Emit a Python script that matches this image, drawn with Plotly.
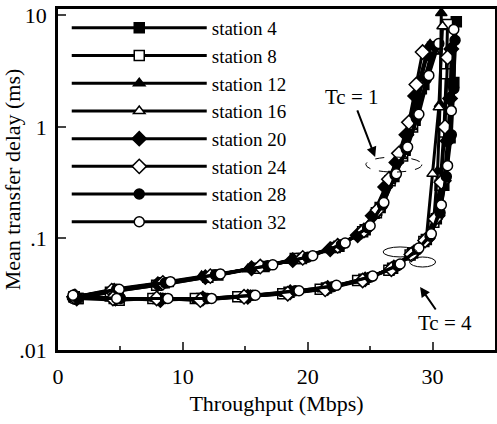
import plotly.graph_objects as go

stations = ["station 4", "station 8", "station 12", "station 16",
            "station 20", "station 24", "station 28", "station 32"]
symbols = ["square", "square", "triangle-up", "triangle-up",
           "diamond", "diamond", "circle", "circle"]
filled = [True, False, True, False, True, False, True, False]

# Tc = 1 curves (upper bundle)
tc1_x = [
    [1.3, 4.6, 8.5, 12.8, 16.5, 19.5, 22.5, 24.6, 25.8, 26.9, 27.8, 28.6, 29.3, 30.0],
    [1.6, 4.2, 7.9, 12.0, 15.8, 19.0, 22.2, 24.4, 25.5, 26.6, 27.6, 28.4, 29.1, 30.2],
    [1.4, 4.4, 8.2, 11.5, 15.2, 18.6, 21.6, 23.9, 25.3, 26.3, 27.2, 28.0, 28.8, 29.8],
    [1.2, 4.8, 8.8, 12.5, 16.0, 19.3, 22.0, 24.2, 25.5, 26.6, 27.5, 28.3, 29.2, 30.1],
    [1.5, 4.5, 8.0, 11.8, 15.5, 18.8, 21.8, 24.0, 25.2, 26.2, 27.1, 27.9, 28.6, 29.5],
    [1.3, 4.3, 8.4, 12.2, 16.2, 19.6, 22.4, 24.5, 25.6, 26.5, 27.3, 28.1, 28.7, 29.2],
    [1.4, 4.7, 8.6, 12.6, 16.8, 20.0, 22.7, 24.8, 26.0, 27.0, 27.9, 28.7, 29.5, 30.2],
    [1.2, 4.9, 9.0, 13.0, 17.2, 20.4, 23.0, 25.0, 26.1, 27.1, 28.0, 28.9, 29.7, 30.5],
]
tc1_y = [
    [0.030, 0.034, 0.040, 0.047, 0.056, 0.066, 0.085, 0.12, 0.19, 0.36, 0.62, 1.15, 2.4, 5.2],
    [0.029, 0.033, 0.038, 0.045, 0.054, 0.066, 0.083, 0.115, 0.17, 0.33, 0.55, 1.0, 2.2, 5.0],
    [0.030, 0.035, 0.040, 0.046, 0.053, 0.063, 0.079, 0.105, 0.16, 0.30, 0.50, 0.90, 2.0, 5.5],
    [0.030, 0.034, 0.039, 0.046, 0.055, 0.066, 0.082, 0.11, 0.17, 0.33, 0.55, 1.0, 2.5, 4.8],
    [0.029, 0.034, 0.039, 0.045, 0.054, 0.064, 0.080, 0.107, 0.16, 0.29, 0.48, 0.85, 1.9, 4.5],
    [0.030, 0.034, 0.040, 0.046, 0.056, 0.067, 0.086, 0.118, 0.18, 0.34, 0.58, 1.1, 2.4, 4.7],
    [0.030, 0.035, 0.040, 0.047, 0.057, 0.068, 0.088, 0.125, 0.20, 0.37, 0.63, 1.2, 2.7, 5.3],
    [0.029, 0.035, 0.041, 0.048, 0.058, 0.070, 0.091, 0.13, 0.21, 0.38, 0.66, 1.3, 2.9, 5.6],
]

# Tc = 4 curves (lower bundle)
tc4_x = [
    [1.3, 4.5, 8.0, 11.5, 15.0, 18.5, 21.5, 24.5, 26.8, 28.4, 29.5, 30.3, 30.9, 31.4, 31.7, 31.9],
    [1.6, 4.9, 7.6, 11.0, 14.4, 18.0, 21.0, 24.0, 26.5, 28.2, 29.3, 30.1, 30.6, 30.9, 31.1, 31.2],
    [1.2, 4.2, 7.8, 11.2, 14.8, 18.2, 21.2, 24.2, 26.6, 28.3, 29.4, 30.1, 30.4, 30.6, 30.7],
    [1.5, 4.8, 8.4, 11.8, 15.4, 18.8, 21.8, 24.8, 27.0, 28.6, 29.5, 30.0, 30.5, 30.8],
    [1.4, 4.6, 8.2, 11.6, 15.2, 18.6, 21.6, 24.6, 26.9, 28.5, 29.6, 30.4, 30.9, 31.2, 31.4, 31.5],
    [1.3, 4.4, 7.9, 11.4, 14.9, 18.4, 21.4, 24.4, 26.7, 28.3, 29.4, 30.2, 30.7, 31.0, 31.2],
    [1.6, 5.0, 8.6, 12.0, 15.6, 19.0, 22.0, 25.0, 27.2, 28.8, 29.8, 30.6, 31.1, 31.5, 31.7, 31.8],
    [1.2, 4.7, 8.8, 12.3, 15.8, 19.3, 22.3, 25.2, 27.4, 28.9, 29.9, 30.7, 31.2, 31.5, 31.7],
]
tc4_y = [
    [0.030, 0.029, 0.029, 0.029, 0.030, 0.033, 0.036, 0.043, 0.054, 0.074, 0.098, 0.15, 0.30, 0.80, 2.5, 8.8],
    [0.029, 0.028, 0.029, 0.029, 0.030, 0.032, 0.035, 0.042, 0.052, 0.071, 0.094, 0.14, 0.30, 0.9, 3.0, 8.3],
    [0.031, 0.029, 0.029, 0.028, 0.030, 0.032, 0.035, 0.042, 0.053, 0.073, 0.095, 0.15, 0.40, 1.6, 10.5],
    [0.030, 0.029, 0.029, 0.029, 0.031, 0.033, 0.036, 0.044, 0.056, 0.077, 0.10, 0.38, 1.5, 8.0],
    [0.030, 0.029, 0.028, 0.029, 0.030, 0.033, 0.036, 0.043, 0.055, 0.075, 0.10, 0.16, 0.33, 0.75, 1.8, 5.0],
    [0.030, 0.029, 0.029, 0.028, 0.030, 0.032, 0.035, 0.042, 0.053, 0.072, 0.096, 0.15, 0.32, 1.0, 4.2],
    [0.029, 0.029, 0.029, 0.029, 0.031, 0.034, 0.037, 0.045, 0.057, 0.080, 0.105, 0.17, 0.36, 0.85, 2.2, 6.0],
    [0.031, 0.029, 0.029, 0.029, 0.031, 0.034, 0.038, 0.046, 0.059, 0.082, 0.11, 0.20, 0.45, 1.4, 7.5],
]

x_ticks = [0, 10, 20, 30]
y_ticks = [0.01, 0.1, 1, 10]
y_ticktext = [".01", ".1", "1", "10"]

FONT = "Liberation Serif, Times New Roman, serif"

fig = go.Figure()

def marker_style(i):
    return dict(
        symbol=symbols[i],
        size=10 if symbols[i] != "diamond" else 11,
        color="black" if filled[i] else "white",
        line=dict(color="black", width=1.5),
    )

for i, name in enumerate(stations):
    fig.add_trace(go.Scatter(
        x=tc1_x[i], y=tc1_y[i], mode="lines+markers", name=name,
        line=dict(color="black", width=3),
        marker=marker_style(i), showlegend=True,
    ))
for i, name in enumerate(stations):
    fig.add_trace(go.Scatter(
        x=tc4_x[i], y=tc4_y[i], mode="lines+markers", name=name,
        line=dict(color="black", width=3),
        marker=marker_style(i), showlegend=False,
    ))

fig.update_layout(
    width=497, height=424,
    margin=dict(l=58, r=2, t=9, b=74),
    paper_bgcolor="white", plot_bgcolor="white",
    font=dict(family=FONT, size=22, color="black"),
    legend=dict(
        x=0.02, y=1.0, xanchor="left", yanchor="top",
        bgcolor="rgba(0,0,0,0)", itemwidth=135,
        font=dict(family=FONT, size=19, color="black"),
        tracegroupgap=0,
    ),
    xaxis=dict(
        range=[0, 35], tickvals=x_ticks, ticks="inside", ticklen=8, tickwidth=1.5,
        showline=True, linecolor="black", linewidth=2.5, mirror=True,
        showgrid=False, zeroline=False, ticklabelstandoff=5, automargin=False,
        minor=dict(tickvals=[5, 15, 25], ticks="inside", ticklen=4, tickwidth=1.5),
        title=dict(text="Throughput (Mbps)", font=dict(size=22), standoff=8),
    ),
    yaxis=dict(
        type="log", range=[-2, 1.058], tickvals=y_ticks, ticktext=y_ticktext,
        ticks="inside", ticklen=8, tickwidth=1.5,
        showline=True, linecolor="black", linewidth=2.5, mirror=True,
        showgrid=False, zeroline=False, ticklabelstandoff=4, automargin=False,
        title=dict(text="Mean transfer delay (ms)", font=dict(size=22), standoff=4),
    ),
    showlegend=True,
)

fig.add_annotation(x=25.4, y=-0.269, text="Tc = 1", showarrow=True,
                   ax=-23, ay=-60, arrowhead=2, arrowsize=1, arrowwidth=2,
                   arrowcolor="black", font=dict(size=21))
fig.add_annotation(x=29.0, y=-1.435, text="Tc = 4", showarrow=True,
                   ax=25, ay=36, arrowhead=2, arrowsize=1, arrowwidth=2,
                   arrowcolor="black", font=dict(size=21))

fig.add_shape(type="circle", xref="x", yref="y", xsizemode="pixel", ysizemode="pixel",
              xanchor=26.9, yanchor=0.394, x0=-28, x1=28, y0=-15, y1=15,
              line=dict(color="black", width=1, dash="dash"))
fig.add_shape(type="circle", xref="x", yref="y", xsizemode="pixel", ysizemode="pixel",
              xanchor=27.4, yanchor=0.0683, x0=-17, x1=17, y0=-10, y1=10,
              line=dict(color="black", width=1))
fig.add_shape(type="circle", xref="x", yref="y", xsizemode="pixel", ysizemode="pixel",
              xanchor=29.2, yanchor=0.0555, x0=-13, x1=13, y0=-10, y1=10,
              line=dict(color="black", width=1))

fig.write_html("out.html", config={"displayModeBar": False},
               post_script="document.body.style.margin='0';")
